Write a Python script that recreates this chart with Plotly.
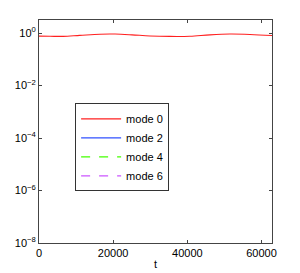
import plotly.graph_objects as go

t = [0, 2970, 6470, 11000, 16450, 20500, 25080, 29930, 35300, 40700, 46100, 51500, 56900, 62832]
mode0 = [0.77, 0.76, 0.75, 0.82, 0.91, 0.92, 0.86, 0.78, 0.75, 0.76, 0.86, 0.92, 0.89, 0.81]
mode2 = [1e-12] * len(t)
mode4 = [1e-12] * len(t)
mode6 = [1e-12] * len(t)

series = [
    ("mode 0", mode0, "#ff2020", "solid"),
    ("mode 2", mode2, "#3050ff", "solid"),
    ("mode 4", mode4, "#44ff00", "dash"),
    ("mode 6", mode6, "#cc55ff", "dash"),
]

ytickvals = [1e-8, 1e-6, 1e-4, 1e-2, 1]
yticktext = ["10<sup>−8</sup>", "10<sup>−6</sup>", "10<sup>−4</sup>", "10<sup>−2</sup>", "10<sup>0</sup>"]
xtickvals = [0, 20000, 40000, 60000]

fig = go.Figure()
for name, vals, color, dash in series:
    fig.add_trace(go.Scatter(x=t, y=vals, name=name, mode="lines",
                             line=dict(color=color, width=1.1, dash=dash, shape="spline")))

fig.update_layout(
    width=300, height=273,
    margin=dict(l=39, r=28, t=20, b=30, autoexpand=False),
    paper_bgcolor="white", plot_bgcolor="white",
    font=dict(family="Liberation Sans, Arial, sans-serif", size=11, color="black"),
    legend=dict(x=0.155, y=0.626, xanchor="left", yanchor="top",
                bgcolor="white", bordercolor="#333", borderwidth=1,
                font=dict(size=11), tracegroupgap=0, itemwidth=40),
    showlegend=True,
)
fig.update_xaxes(range=[0, 62832], tickvals=xtickvals, ticktext=[str(v) for v in xtickvals],
                 showgrid=False, zeroline=False, showline=True, linecolor="#444", linewidth=1,
                 mirror="ticks", ticks="inside", ticklen=3, tickcolor="#444", automargin=False,
                 title=dict(text="t", standoff=2, font=dict(size=11)))
fig.update_yaxes(type="log", range=[-8, 0.5], tickvals=ytickvals, ticktext=yticktext,
                 showgrid=False, zeroline=False, showline=True, linecolor="#444", linewidth=1,
                 mirror="ticks", ticks="inside", ticklen=3, tickcolor="#444", automargin=False)

fig.write_html("out.html", config={"displayModeBar": False},
               post_script="document.body.style.margin='0';")
